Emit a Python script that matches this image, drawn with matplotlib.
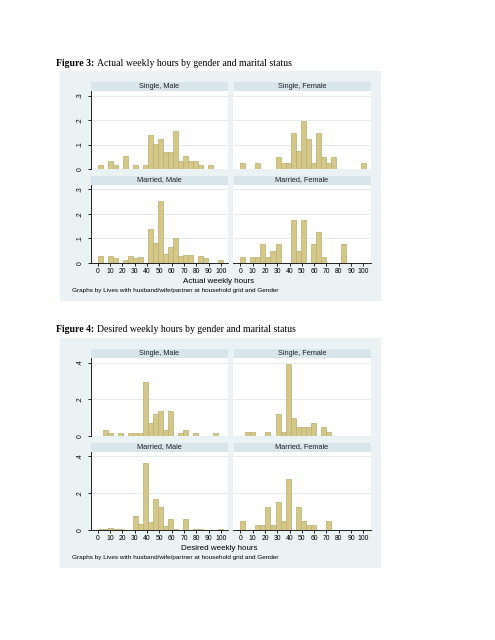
import numpy as np
import matplotlib
matplotlib.use("Agg")
import matplotlib.pyplot as plt
from matplotlib.patches import Rectangle

W, H = 495, 640

# histogram bins shared by every panel (fraction of observations per bin)
bin_width = 4.08
n_bins = 25

# Figure 3: actual weekly hours
actual_single_male = [0.017, 0, 0.034, 0.017, 0, 0.052, 0, 0.017, 0, 0.017,
                      0.138, 0.103, 0.121, 0.069, 0.069, 0.155, 0.034, 0.052, 0.034, 0.034,
                      0.017, 0, 0.017, 0, 0]
actual_single_female = [0.024, 0, 0, 0.024, 0, 0, 0, 0.049, 0.024, 0.024,
                        0.146, 0.073, 0.195, 0.122, 0.024, 0.146, 0.049, 0.024, 0.049, 0,
                        0, 0, 0, 0, 0.024]
actual_married_male = [0.027, 0, 0.030, 0.018, 0, 0.012, 0.030, 0.019, 0.026, 0,
                       0.140, 0.082, 0.251, 0.038, 0.064, 0.102, 0.027, 0.031, 0.031, 0,
                       0.027, 0.019, 0, 0, 0.012]
actual_married_female = [0.025, 0, 0.025, 0.025, 0.075, 0.025, 0.050, 0.075, 0, 0,
                         0.175, 0.050, 0.175, 0, 0.075, 0.125, 0.025, 0, 0, 0,
                         0.075, 0, 0, 0, 0]

# Figure 4: desired weekly hours
desired_single_male = [0, 0.034, 0.017, 0, 0.017, 0, 0.017, 0.017, 0.017, 0.293,
                       0.069, 0.121, 0.138, 0.034, 0.138, 0, 0.017, 0.034, 0, 0.017,
                       0, 0, 0, 0.017, 0]
desired_single_female = [0, 0.024, 0.024, 0, 0, 0.024, 0, 0.122, 0.024, 0.390,
                         0.098, 0.049, 0.049, 0.049, 0.073, 0, 0.049, 0.024, 0, 0,
                         0, 0, 0, 0, 0]
desired_married_male = [0.005, 0.005, 0.011, 0.005, 0.005, 0, 0, 0.073, 0.033, 0.364,
                        0.045, 0.169, 0.124, 0.020, 0.060, 0.005, 0, 0.060, 0, 0.005,
                        0.005, 0, 0, 0, 0.005]
desired_married_female = [0.050, 0, 0, 0.025, 0.025, 0.125, 0.025, 0.150, 0.050, 0.275,
                          0, 0.125, 0.050, 0.025, 0.025, 0, 0, 0.050, 0, 0,
                          0, 0, 0, 0, 0]

panel_titles = ["Single, Male", "Single, Female", "Married, Male", "Married, Female"]
x_ticks = [0, 10, 20, 30, 40, 50, 60, 70, 80, 90, 100]
note = "Graphs by Lives with husband/wife/partner at household grid and Gender"

BAR = "#d4c78a"
BAR_EDGE = "#bcae6c"
REGION = "#eaf2f3"
STRIP = "#d8e5ea"
GRID = "#e4ecee"
SANS = "Liberation Sans"
SERIF = "Liberation Serif"

fig = plt.figure(figsize=(W / 100, H / 100), dpi=100)
fig.patch.set_facecolor("white")


def rect(x0, y0, x1, y1, color):
    fig.add_artist(Rectangle((x0 / W, 1 - y1 / H), (x1 - x0) / W, (y1 - y0) / H,
                             transform=fig.transFigure, facecolor=color,
                             edgecolor="none", zorder=0))


def caption(x, y, bold, rest):
    t = fig.text(x / W, 1 - y / H, bold, family=SERIF, weight="bold", fontsize=7,
                 va="center", ha="left")
    r = fig.canvas.get_renderer()
    bb = t.get_window_extent(r)
    fig.text(bb.x1 / W + 2.5 / W, 1 - y / H, rest, family=SERIF, fontsize=7,
             va="center", ha="left")


def draw_graph(off, fig_label, fig_text, panels, ymax, yticks, ylabels, xtitle):
    caption(56, 63 + off, fig_label, fig_text)
    rect(60, 71 + off, 381, 301 + off, REGION)

    cols = [(90.5, 228), (233, 370.5)]
    rows = [(81.7, 90.7, 169.1), (175.5, 184.5, 262.9)]
    span = 73.6  # pixels from 0 to top tick
    for i, data in enumerate(panels):
        r, c = divmod(i, 2)
        x0, x1 = cols[c]
        s0, p0, p1 = rows[r]
        s0, p0, p1 = s0 + off, p0 + off, p1 + off
        rect(x0 + 0.5, s0, x1, p0, STRIP)
        fig.text((x0 + x1) / 2 / W, 1 - (s0 + p0) / 2 / H, panel_titles[i],
                 family=SANS, fontsize=5.3, ha="center", va="center", color="#222222")

        ax = fig.add_axes([x0 / W, 1 - p1 / H, (x1 - x0) / W, (p1 - p0) / H])
        ax.set_facecolor("white")
        ax.bar(np.arange(n_bins) * bin_width, data, width=bin_width, align="edge",
               color=BAR, edgecolor=BAR_EDGE, linewidth=0.5, zorder=3)
        ax.set_xlim(-6.0, 105.8)
        ax.set_ylim(0, ymax * (p1 - p0) / span)
        ax.set_yticks(yticks)
        ax.yaxis.grid(True, color=GRID, linewidth=0.7, zorder=0)
        ax.set_axisbelow(True)
        for side in ["top", "right"]:
            ax.spines[side].set_visible(False)
        ax.spines["left"].set_visible(c == 0)
        ax.spines["bottom"].set_visible(r == 1)
        for side in ["left", "bottom"]:
            ax.spines[side].set_linewidth(0.6)
        if c == 0:
            ax.set_yticklabels(ylabels, rotation=90, va="center", family=SANS, fontsize=4.9)
            ax.tick_params(axis="y", length=2.5, width=0.6, pad=2.5)
        else:
            ax.tick_params(axis="y", length=0, labelleft=False)
        ax.set_xticks(x_ticks)
        if r == 1:
            ax.set_xticklabels([str(t) for t in x_ticks], family=SANS, fontsize=4.9)
            ax.tick_params(axis="x", length=2.5, width=0.6, pad=1.5)
        else:
            ax.tick_params(axis="x", length=0, labelbottom=False)

    fig.text(219 / W, 1 - (281.5 + off) / H, xtitle, family=SANS, fontsize=5.8,
             ha="center", va="center")
    fig.text(72 / W, 1 - (290.7 + off) / H, note, family=SANS, fontsize=4.6,
             ha="left", va="center")


draw_graph(0, "Figure 3:", "Actual weekly hours by gender and marital status",
           [actual_single_male, actual_single_female, actual_married_male, actual_married_female],
           0.3, [0, 0.1, 0.2, 0.3], ["0", ".1", ".2", ".3"], "Actual weekly hours")
draw_graph(267, "Figure 4:", "Desired weekly hours by gender and marital status",
           [desired_single_male, desired_single_female, desired_married_male, desired_married_female],
           0.4, [0, 0.2, 0.4], ["0", ".2", ".4"], "Desired weekly hours")

fig.savefig("out.png", dpi=100, facecolor="white")
